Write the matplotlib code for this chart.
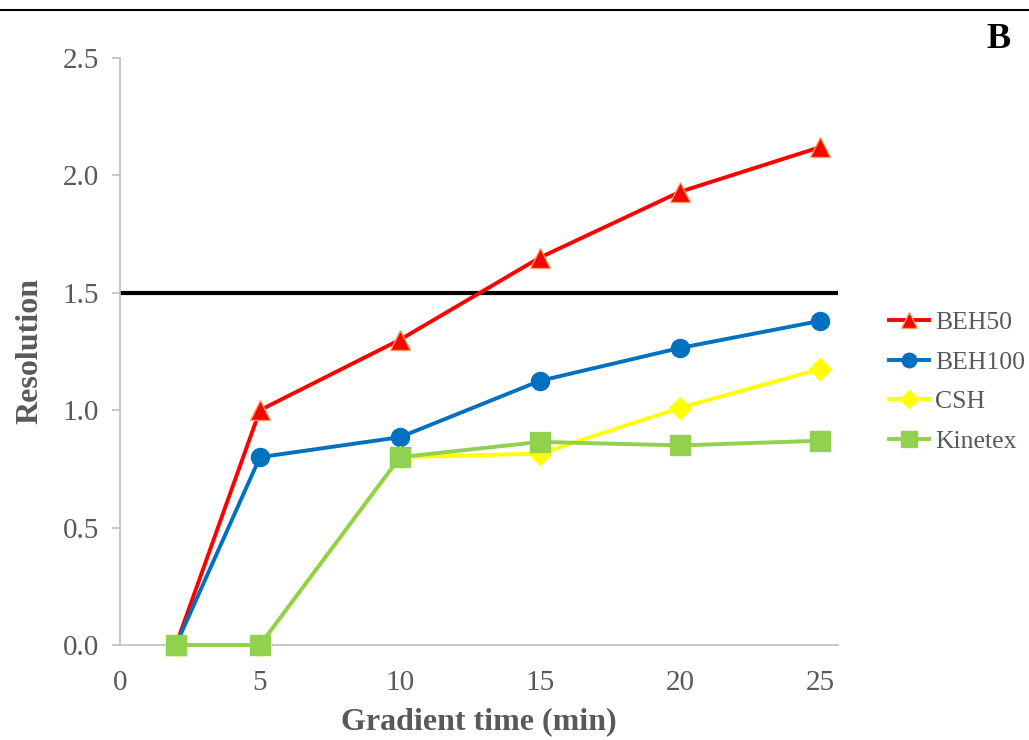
import matplotlib.pyplot as plt
from matplotlib.lines import Line2D

times = [2, 5, 10, 15, 20, 25]
beh50 = [0.0, 1.00, 1.30, 1.65, 1.93, 2.12]
beh100 = [0.0, 0.80, 0.885, 1.125, 1.265, 1.38]
csh = [0.0, 0.0, 0.80, 0.815, 1.01, 1.175]
kinetex = [0.0, 0.0, 0.80, 0.865, 0.85, 0.87]
threshold = 1.5

plt.rcParams['font.family'] = ['Liberation Serif', 'DejaVu Serif']
grey = '#595959'
axcol = '#BFBFBF'

fig = plt.figure(figsize=(10.29, 7.40), dpi=100)
ax = fig.add_axes([0.1166, 0.1284, 0.6978, 0.7932])

ax.axhline(threshold, color='black', lw=3, zorder=1)

ax.plot(times, beh50, color='#FF0000', lw=2.8, marker='^', ms=15,
        mfc='#FF0000', mec='#F4A460', mew=1, label='BEH50', clip_on=False, zorder=3)
ax.plot(times, beh100, color='#0070C0', lw=2.8, marker='o', ms=13,
        mfc='#0070C0', mec='#0070C0', label='BEH100', clip_on=False, zorder=4)
ax.plot(times, csh, color='#FFFF00', lw=2.8, marker='D', ms=11,
        mfc='#FFFF00', mec='#FFFF00', label='CSH', clip_on=False, zorder=5)
ax.plot(times, kinetex, color='#92D050', lw=2.8, marker='s', ms=14,
        mfc='#92D050', mec='#92D050', label='Kinetex', clip_on=False, zorder=6)

ax.set_xlim(0, 25.65)
ax.set_ylim(0, 2.5)
ax.set_xticks([0, 5, 10, 15, 20, 25])
ax.set_yticks([0, 0.5, 1.0, 1.5, 2.0, 2.5])
ax.set_yticklabels(['0.0', '0.5', '1.0', '1.5', '2.0', '2.5'])

for s in ['top', 'right']:
    ax.spines[s].set_visible(False)
for s in ['left', 'bottom']:
    ax.spines[s].set_color(axcol)
    ax.spines[s].set_linewidth(1.2)

ax.tick_params(axis='y', direction='out', length=6, color=axcol, width=1.2,
               labelsize=21, labelcolor=grey, pad=9)
ax.tick_params(axis='x', length=0, labelsize=21, labelcolor=grey, pad=18)

ax.set_xlabel('Gradient time (min)', fontsize=23, fontweight='bold', color=grey, labelpad=8)
ax.set_ylabel('Resolution', fontsize=23, fontweight='bold', color=grey, labelpad=13)

ax.legend(loc='center left', bbox_to_anchor=(1.057, 0.448), frameon=False,
          fontsize=18.5, labelcolor=grey, handlelength=1.55, handletextpad=0.25,
          labelspacing=0.65, markerscale=0.8, borderaxespad=0)

fig.text(0.982, 0.946, 'B', fontsize=26, fontweight='bold', ha='right', va='center')
fig.add_artist(Line2D([0, 1], [0.9865, 0.9865], transform=fig.transFigure,
                      color='black', lw=1.5))

fig.savefig('out.png', dpi=100)
